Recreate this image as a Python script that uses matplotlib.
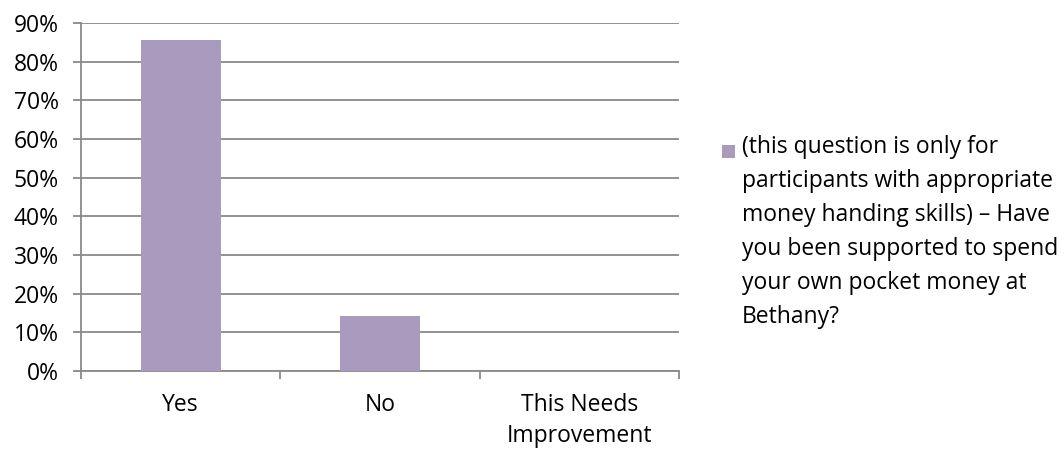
import matplotlib
matplotlib.use("Agg")
import matplotlib.pyplot as plt
from matplotlib.patches import Rectangle
import numpy as np

categories = ["Yes", "No", "This Needs\nImprovement"]
values = [85.7, 14.3, 0.0]
series_label = ("(this question is only for\nparticipants with appropriate\n"
                "money handing skills) – Have\nyou been supported to spend\n"
                "your own pocket money at\nBethany?")
y_ticks = [0, 10, 20, 30, 40, 50, 60, 70, 80, 90]

plt.rcParams['font.family'] = ['Open Sans', 'DejaVu Sans']

W, H = 1064, 450
bar_color = "#A99BBD"
grid_color = "#898989"
fs = 16.5

fig = plt.figure(figsize=(W / 100, H / 100), dpi=100)
ax = fig.add_axes([81 / W, 1 - 371 / H, (679 - 81) / W, (371 - 23) / H])

x = np.arange(len(categories))
bars = ax.bar(x, values, width=0.4, color=bar_color, zorder=3, label=series_label)

ax.set_xlim(-0.5, len(categories) - 0.5)
ax.set_ylim(0, 90)
ax.set_yticks(y_ticks)
ax.set_yticklabels([f"{t}%" for t in y_ticks], fontsize=fs)
ax.yaxis.grid(True, color=grid_color, linewidth=1.3, zorder=0)

ax.set_xticks(x)
ax.set_xticklabels(categories, fontsize=fs, linespacing=1.38)
ax.tick_params(axis='x', length=0, pad=16)
ax.set_xticks(np.arange(-0.5, len(categories)), minor=True)
ax.tick_params(axis='x', which='minor', length=6, color=grid_color, width=1.3)
ax.tick_params(axis='y', length=6, color=grid_color, width=1.3, pad=10)

for side in ("top", "right"):
    ax.spines[side].set_visible(False)
for side in ("left", "bottom"):
    ax.spines[side].set_color(grid_color)
    ax.spines[side].set_linewidth(1.3)

# Legend: colour key beside a wrapped series name
fig.patches.append(Rectangle((722 / W, 1 - 158 / H), 13 / W, 13 / H,
                             transform=fig.transFigure, facecolor=bar_color,
                             edgecolor="none"))
fig.text(742 / W, 1 - 232 / H, bars.get_label(), fontsize=fs,
         linespacing=1.55, va="center", ha="left")

fig.savefig("out.png", dpi=100)
